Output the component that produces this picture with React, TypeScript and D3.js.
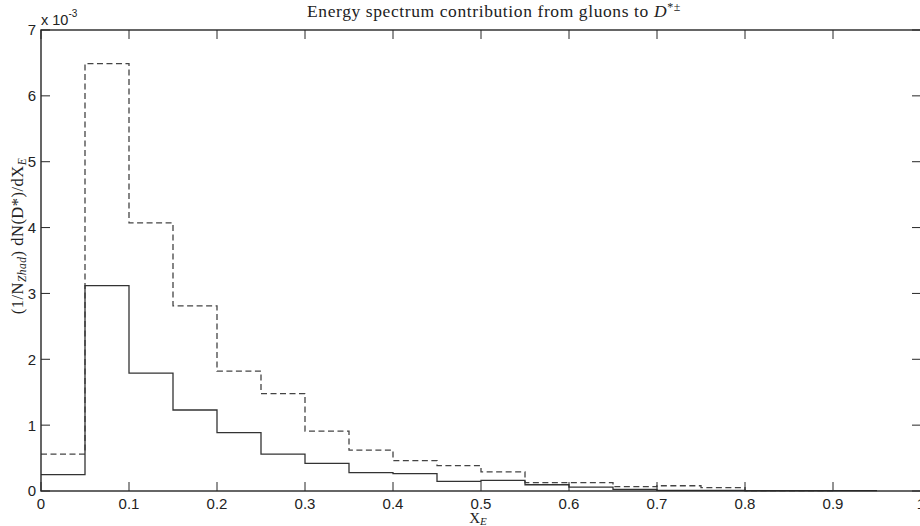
import React from 'react';
import * as d3 from 'd3';

const binEdges = [0, 0.05, 0.1, 0.15, 0.2, 0.25, 0.3, 0.35, 0.4, 0.45, 0.5, 0.55, 0.6, 0.65, 0.7, 0.75, 0.8, 0.85, 0.9, 0.95, 1.0];
// values in units of 1e-3
const solidSeries = [0.25, 3.12, 1.79, 1.23, 0.885, 0.56, 0.42, 0.28, 0.265, 0.145, 0.16, 0.095, 0.06, 0.025, 0.008, 0.008, 0.005, 0.005, 0.005];
const dashedSeries = [0.56, 6.49, 4.07, 2.81, 1.82, 1.48, 0.91, 0.62, 0.46, 0.385, 0.29, 0.126, 0.126, 0.065, 0.08, 0.05, 0.006, 0.006];
const xTicks = [0, 0.1, 0.2, 0.3, 0.4, 0.5, 0.6, 0.7, 0.8, 0.9, 1];
const xTickLabels = ['0', '0.1', '0.2', '0.3', '0.4', '0.5', '0.6', '0.7', '0.8', '0.9', '1'];
const yTicks = [0, 1, 2, 3, 4, 5, 6, 7];
const yTickLabels = ['0', '1', '2', '3', '4', '5', '6', '7'];

export default function App() {
  const W = 920, H = 526;
  const L = 41, R = 921, T = 30, B = 491;
  const x = d3.scaleLinear().domain([0, 1]).range([L, R]);
  const y = d3.scaleLinear().domain([0, 7]).range([B, T]);
  const tickLen = 9;

  const stepPath = (vals: number[]) => {
    const pts: [number, number][] = vals.map((v, i) => [binEdges[i], v]);
    pts.push([binEdges[vals.length], vals[vals.length - 1]]);
    return d3.line<[number, number]>().x(d => x(d[0])).y(d => y(d[1])).curve(d3.curveStepAfter)(pts) || '';
  };

  const sans = '"Liberation Sans", Arial, Helvetica, sans-serif';
  const serif = '"Liberation Serif", "Times New Roman", serif';
  const axisColor = '#262626';

  return (
    <svg width={W} height={H} style={{ position: 'absolute', left: 0, top: 0, background: '#fff' }}>
      <rect x={0} y={0} width={W} height={H} fill="#fff" />
      <path d={stepPath(dashedSeries)} fill="none" stroke="#444" strokeWidth={1.3} strokeDasharray="6,3.5" />
      <path d={stepPath(solidSeries)} fill="none" stroke="#333" strokeWidth={1.3} />
      <rect x={L} y={T} width={R - L} height={B - T} fill="none" stroke={axisColor} strokeWidth={1.4} />
      {xTicks.map((t, i) => (
        <g key={'xt' + i}>
          <line x1={x(t)} x2={x(t)} y1={B} y2={B - tickLen} stroke={axisColor} strokeWidth={1} />
          <line x1={x(t)} x2={x(t)} y1={T} y2={T + tickLen} stroke={axisColor} strokeWidth={1} />
          <text x={x(t)} y={509} textAnchor="middle" fontFamily={sans} fontSize={15} fill="#222">{xTickLabels[i]}</text>
        </g>
      ))}
      {yTicks.map((t, i) => (
        <g key={'yt' + i}>
          <line x1={L} x2={L + tickLen} y1={y(t)} y2={y(t)} stroke={axisColor} strokeWidth={1} />
          <line x1={R} x2={R - tickLen} y1={y(t)} y2={y(t)} stroke={axisColor} strokeWidth={1} />
          <text x={36} y={y(t)} dy="0.36em" textAnchor="end" fontFamily={sans} fontSize={15} fill="#222">{yTickLabels[i]}</text>
        </g>
      ))}
      <text x={41} y={25} fontFamily={sans} fontSize={14.5} fill="#222">
        x 10<tspan fontSize={10} dy={-8}>-3</tspan>
      </text>
      <text x={494} y={17} textAnchor="middle" fontFamily={serif} fontSize={17.5} letterSpacing={0.6} fill="#222">
        Energy spectrum contribution from gluons to <tspan fontStyle="italic">D</tspan>
        <tspan fontSize={12} dy={-6}>*±</tspan>
      </text>
      <text x={478} y={523} textAnchor="middle" fontFamily={serif} fontSize={15} fill="#222">
        X<tspan fontSize={11} dy={2} fontStyle="italic">E</tspan>
      </text>
      <text transform={`translate(23, 236) rotate(-90)`} textAnchor="middle" fontFamily={serif} fontSize={16.5} letterSpacing={0.5} fill="#222">
        (1/N<tspan fontSize={11.5} dy={3} fontStyle="italic">Zhad</tspan>
        <tspan dy={-3}>) dN(D*)/dX</tspan>
        <tspan fontSize={11.5} dy={3} fontStyle="italic">E</tspan>
      </text>
    </svg>
  );
}
